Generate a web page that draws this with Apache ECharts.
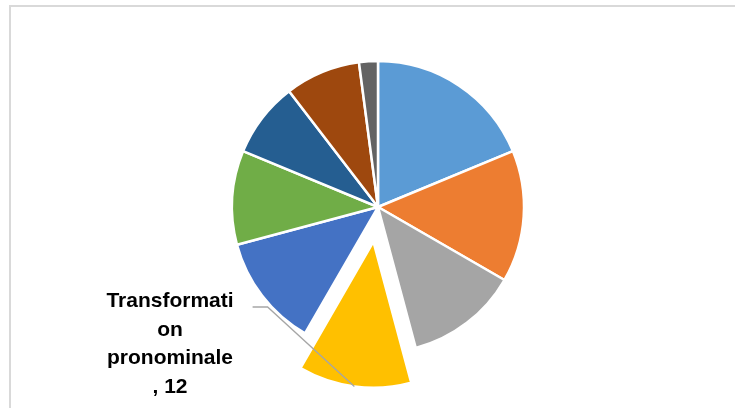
<!DOCTYPE html>
<html>
<head>
<meta charset="utf-8">
<script src="https://cdn.jsdelivr.net/npm/echarts@6/dist/echarts.min.js"></script>
<style>
  html, body { margin: 0; padding: 0; background: #ffffff; }
  #chart { width: 735px; height: 408px; }
</style>
</head>
<body>
<div id="chart"></div>
<script>
// Categories of the pie, clockwise from twelve o'clock
const categories = [
  'Catégorie 1', 'Catégorie 2', 'Catégorie 3', 'Transformation pronominale',
  'Catégorie 5', 'Catégorie 6', 'Catégorie 7', 'Catégorie 8', 'Catégorie 9'
];
const values = [18, 14, 12, 12, 12, 10, 8, 8, 2];
const colors = ['#5B9BD5', '#ED7D31', '#A5A5A5', '#FFC000', '#4472C4', '#70AD47', '#255E91', '#9E480E', '#636363'];
// The slice that is pulled out and labelled
const highlighted = 3;

const pieCenter = [378, 207];
const pieRadius = 146;
const explodeDistance = 35;

// Wrap "name, value" into short lines, splitting over-long words
function wrapLabel(name, value, maxChars) {
  const pieces = name.split(' ');
  pieces.push(', ' + value);
  const lines = [];
  let line = '';
  pieces.forEach(function (p, i) {
    const isTail = i === pieces.length - 1;
    const joined = line ? line + (isTail ? '' : ' ') + p : p;
    if (joined.length <= maxChars) { line = joined; return; }
    if (line) lines.push(line);
    line = '';
    let rest = p;
    while (rest.length > maxChars) { lines.push(rest.slice(0, maxChars)); rest = rest.slice(maxChars); }
    line = rest;
  });
  if (line) lines.push(line);
  return lines.join('\n');
}

// Direction of the pulled-out slice: its mid angle, measured clockwise from the top
const total = values.reduce(function (a, b) { return a + b; }, 0);
const before = values.slice(0, highlighted).reduce(function (a, b) { return a + b; }, 0);
const midAngle = (before + values[highlighted] / 2) / total * Math.PI * 2;
const explodedCenter = [
  pieCenter[0] + Math.sin(midAngle) * explodeDistance,
  pieCenter[1] - Math.cos(midAngle) * explodeDistance
];

const hidden = { color: 'rgba(0,0,0,0)', borderWidth: 0 };

// Main ring: every slice except the pulled-out one
const mainData = categories.map(function (name, i) {
  return {
    name: name,
    value: values[i],
    itemStyle: i === highlighted ? hidden : { color: colors[i] }
  };
});

// Offset ring: only the pulled-out slice is painted
const explodedData = categories.map(function (name, i) {
  return {
    name: name,
    value: values[i],
    itemStyle: i === highlighted ? { color: colors[i] } : hidden
  };
});

// Label ring: same geometry as the offset ring, drawn above it so the leader line stays visible
const labelData = categories.map(function (name, i) {
  const on = i === highlighted;
  return {
    name: name,
    value: values[i],
    itemStyle: hidden,
    label: { show: on },
    labelLine: { show: on }
  };
});

const chart = echarts.init(document.getElementById('chart'), null, { renderer: 'canvas' });

chart.setOption({
  animation: false,
  backgroundColor: '#ffffff',
  graphic: [{
    type: 'rect',
    silent: true,
    z: -10,
    shape: { x: 10, y: 6, width: 780, height: 460 },
    style: { fill: 'none', stroke: '#d9d9d9', lineWidth: 2 }
  }],
  series: [{
    type: 'pie',
    silent: true,
    z: 2,
    center: pieCenter,
    radius: pieRadius,
    startAngle: 90,
    clockwise: true,
    itemStyle: { borderColor: '#ffffff', borderWidth: 2.5 },
    label: { show: false },
    labelLine: { show: false },
    data: mainData
  }, {
    type: 'pie',
    silent: true,
    z: 2,
    center: explodedCenter,
    radius: pieRadius,
    startAngle: 90,
    clockwise: true,
    itemStyle: { borderColor: '#ffffff', borderWidth: 2.5 },
    label: { show: false },
    labelLine: { show: false },
    data: explodedData
  }, {
    type: 'pie',
    silent: true,
    z: 5,
    center: explodedCenter,
    radius: pieRadius,
    startAngle: 90,
    clockwise: true,
    label: {
      position: 'outside',
      color: '#000000',
      fontFamily: 'Liberation Sans',
      fontWeight: 'bold',
      fontSize: 21,
      lineHeight: 28.5,
      align: 'center',
      formatter: function (p) { return wrapLabel(p.name, p.value, 12); }
    },
    labelLine: {
      length: 20,
      length2: 20,
      lineStyle: { color: '#a6a6a6', width: 1.3 }
    },
    labelLayout: function (params) {
      if (params.dataIndex !== highlighted) return {};
      const w = params.labelRect.width;
      const h = params.labelRect.height;
      const x = 170, y = 344;
      const right = x + w / 2 + 19;
      const lineY = y - h / 2 + 20;
      const out = { x: x, y: y, align: 'center', verticalAlign: 'middle' };
      if (params.labelLinePoints) {
        out.labelLinePoints = [params.labelLinePoints[0], [right + 15, lineY], [right, lineY]];
      }
      return out;
    },
    data: labelData
  }]
});
</script>
</body>
</html>
